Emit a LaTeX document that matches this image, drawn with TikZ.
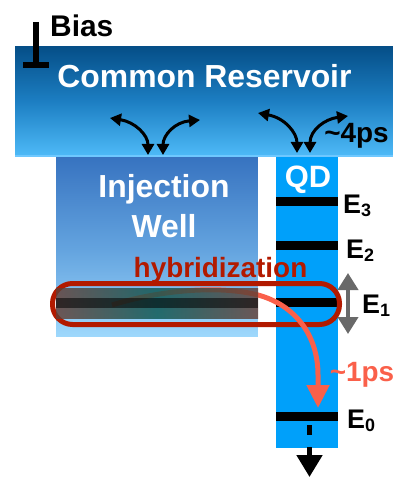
\documentclass[tikz,border=0pt]{standalone}
\usepackage{fontspec}
\setmainfont{Liberation Sans}
\usetikzlibrary{arrows.meta}
\definecolor{resTop}{RGB}{5,78,135}
\definecolor{resMid}{RGB}{28,126,194}
\definecolor{resBot}{RGB}{78,186,248}
\definecolor{resEdge}{RGB}{110,200,255}
\definecolor{wellTop}{RGB}{55,115,192}
\definecolor{wellMid}{RGB}{98,162,222}
\definecolor{wellBot}{RGB}{158,216,252}
\definecolor{qdBlue}{RGB}{0,160,250}
\definecolor{hybRed}{RGB}{178,26,0}
\definecolor{relaxCol}{RGB}{250,96,74}
\definecolor{bandEdge}{RGB}{100,62,52}
\definecolor{bandMid}{RGB}{12,86,80}
\definecolor{grayArrow}{RGB}{105,105,105}
\begin{document}
\begin{tikzpicture}[x=1bp,y=-1bp,
  lbl/.style={inner sep=0pt, font=\bfseries\fontsize{#1}{#1}\selectfont},
  levelbar/.style={line width=9bp},
  swap/.style={line width=3bp, {Triangle[length=11bp,width=12bp]}-{Triangle[length=11bp,width=12bp]}},
  Elabel/.style={inner sep=0pt, anchor=base west, font=\bfseries\fontsize{27}{27}\selectfont}]
\useasboundingbox (0,0) rectangle (412,488);
% QD column
\fill[qdBlue] (276,157) rectangle (338,448);
% injection well (vertical gradient in strips, 3 stops)
\foreach \i in {0,...,89}{
  \pgfmathsetmacro\p{\i/89*100}
  \fill[wellMid!\p!wellTop] (56,157+\i) rectangle (258,158.3+\i);
}
\foreach \i in {0,...,89}{
  \pgfmathsetmacro\p{\i/89*100}
  \fill[wellBot!\p!wellMid] (56,247+\i) rectangle (258,248.3+\i);
}
% common reservoir (vertical gradient in strips, 3 stops)
\foreach \i in {0,...,55}{
  \pgfmathsetmacro\p{\i/55*100}
  \fill[resMid!\p!resTop] (15,46+\i) rectangle (393,47.3+\i);
}
\foreach \i in {0,...,55}{
  \pgfmathsetmacro\p{\i/55*100}
  \fill[resBot!\p!resMid] (15,101+\i) rectangle (393,102.3+\i);
}
\draw[line width=1.5bp, resEdge] (15,156.25) -- (393,156.25);
% bias symbol
\draw[line width=6bp] (36,22) -- (36,65);
\draw[line width=6bp] (23,65) -- (49,65);
\node[lbl=30, anchor=base west] (bias) at (50,37) {Bias};
\node[lbl=32, anchor=base, white] (res) at (204.5,87.5) {Common Reservoir};
\node[lbl=32, anchor=base, white] (inj) at (164,197.5) {Injection};
\node[lbl=32, anchor=base, white] (well) at (164,237) {Well};
\node[lbl=31, anchor=base, white] (qd) at (308,188) {QD};
% QD levels
\coordinate (e3l) at (276,201); \coordinate (e3r) at (338,201);
\coordinate (e2l) at (276,245.5); \coordinate (e2r) at (338,245.5);
\coordinate (e1l) at (276,302.5); \coordinate (e1r) at (338,302.5);
\coordinate (e0l) at (276,416.5); \coordinate (e0r) at (338,416.5);
\draw[levelbar] (e3l) -- (e3r);
\draw[levelbar] (e2l) -- (e2r);
\draw[levelbar] (e1l) -- (e1r);
\draw[levelbar] (e0l) -- (e0r);
\node[Elabel] (E3) at (343,213) {E\raisebox{-3bp}{\fontsize{18}{18}\selectfont 3}};
\node[Elabel] (E2) at (346,258) {E\raisebox{-3bp}{\fontsize{18}{18}\selectfont 2}};
\node[Elabel] (E1) at (362,313) {E\raisebox{-3bp}{\fontsize{18}{18}\selectfont 1}};
\node[Elabel] (E0) at (347,428) {E\raisebox{-3bp}{\fontsize{18}{18}\selectfont 0}};
% hybridization box
\draw[hybRed, line width=5bp, rounded corners=20bp] (52.5,283.5) rectangle (339.5,324.5);
\node[lbl=28, anchor=base, hybRed] (hyb) at (220.5,277) {hybridization};
% relaxation arrow
\coordinate (rs) at (112,305);
\coordinate (rt) at (318,408);
\draw[relaxCol, line width=5bp, -{Triangle[length=23bp,width=22bp]}]
  (rs) .. controls (160,290) and (220,285) .. (258,295)
       .. controls (295,305) and (318,335) .. (318,375) -- (rt);
\node[lbl=28, anchor=base, relaxCol] (t1) at (362,381.5) {\char"007E 1ps};
% hybridized band in the well
\shade[left color=bandEdge, right color=bandEdge, middle color=bandMid, opacity=0.82] (56,288) rectangle (258,318);
\fill[black, opacity=0.55] (56,298) rectangle (258,308);
% E1 tuning arrow
\coordinate (g1) at (348,273);
\coordinate (g2) at (348,334);
\draw[grayArrow, line width=4bp, {Triangle[length=17bp,width=20bp]}-{Triangle[length=17bp,width=20bp]}] (g1) -- (g2);
% exchange arrows with reservoir
\coordinate (a1) at (110,118); \coordinate (a2) at (148,155);
\coordinate (b1) at (163,155); \coordinate (b2) at (200,120);
\coordinate (c1) at (258,113); \coordinate (c2) at (297,153);
\coordinate (d1) at (310,153); \coordinate (d2) at (348,116);
\draw[swap] (a1) .. controls (135,122) and (148,135) .. (a2);
\draw[swap] (b1) .. controls (163,135) and (175,122) .. (b2);
\draw[swap] (c1) .. controls (285,118) and (297,133) .. (c2);
\draw[swap] (d1) .. controls (310,130) and (325,119) .. (d2);
\node[lbl=28, anchor=base] (t4) at (356.5,143) {\char"007E 4ps};
% escape from E0
\coordinate (x1) at (309.5,425); \coordinate (x2) at (309.5,435);
\coordinate (y1) at (309.5,447); \coordinate (y2) at (309.5,477);
\draw[line width=5bp] (x1) -- (x2);
\draw[line width=5bp, -{Triangle[length=22bp,width=25bp]}] (y1) -- (y2);
\end{tikzpicture}
\end{document}
